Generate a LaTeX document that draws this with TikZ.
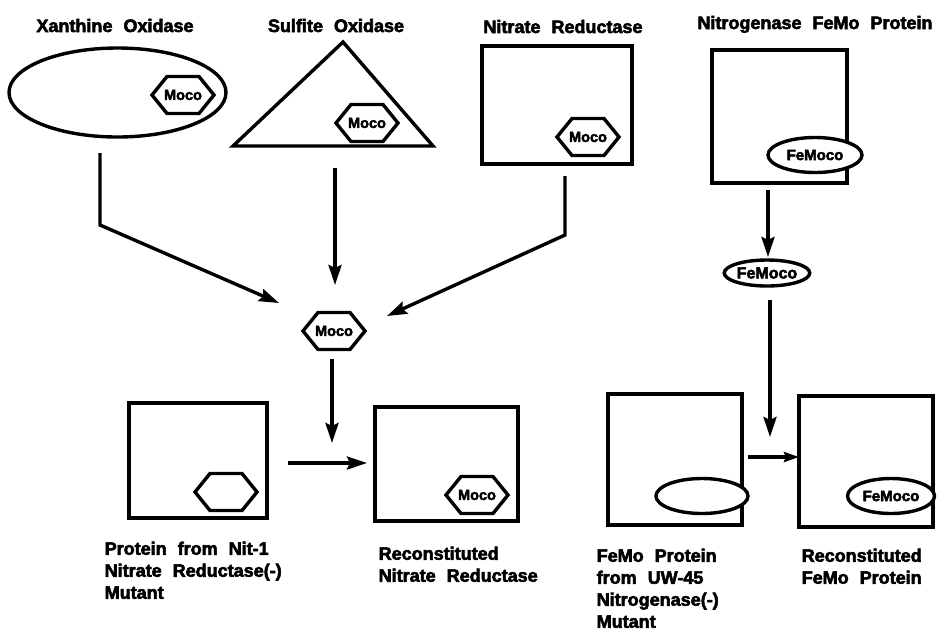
\documentclass[tikz,border=0pt]{standalone}
\usepackage{fontspec}
\setmainfont{Liberation Sans}[UprightFont={* Bold}, FakeBold=3, WordSpace=2.2]
\usetikzlibrary{arrows.meta,shapes.geometric,calc}
\newcommand\hexnode[3]{%
  \coordinate (#1) at (#2);
  \draw[fill=white, line join=miter] ($(#1)+(-31,0)$) -- ++(15,-18.5) -- ++(32,0) -- ++(15,18.5)
     -- ++(-15,18.5) -- ++(-32,0) -- cycle;
  \node[hextext] (#1-t) at (#1) {#3};}
\begin{document}
\begin{tikzpicture}[x=1pt,y=-1pt, line width=3.4pt,
  lab/.style={font=\fontsize{18}{22}\selectfont, inner sep=0pt, align=left, anchor=north west},
  ttl/.style={font=\fontsize{18}{22}\selectfont, inner sep=0pt, anchor=base},
  hextext/.style={inner sep=0pt, font=\fontsize{14.5}{15}\selectfont},
  ell/.style={draw, ellipse, inner sep=0pt, fill=white, font=\fontsize{15}{16}\selectfont},
  box/.style={draw, rectangle, inner sep=0pt},
  arr/.style={-{Stealth[length=20pt,width=13pt,inset=3pt]}, line join=miter},
  sarr/.style={-{Stealth[length=15pt,width=10pt,inset=2pt]}},
]
\useasboundingbox (0,0) rectangle (937,633);

% titles
\node[ttl] (t1) at (115,32) {Xanthine Oxidase};
\node[ttl] (t2) at (336,32) {Sulfite Oxidase};
\node[ttl] (t3) at (563,33) {Nitrate Reductase};
\node[ttl] (t4) at (815,29) {Nitrogenase FeMo Protein};

% xanthine oxidase
\node[draw, ellipse, inner sep=0pt, minimum width=217pt, minimum height=89pt] (xo) at (117.5,92.5) {};
\hexnode{xomoco}{183,95}{Moco}

% sulfite oxidase
\coordinate (soA) at (343,42);
\coordinate (soB) at (433,146);
\coordinate (soC) at (233,146);
\draw[line join=miter] (soA) -- (soB) -- (soC) -- cycle;
\hexnode{somoco}{367,123}{Moco}

% nitrate reductase
\node[box, minimum width=150pt, minimum height=118pt] (nr) at (557,105) {};
\hexnode{nrmoco}{588,137}{Moco}

% nitrogenase FeMo protein
\node[box, minimum width=135pt, minimum height=133pt] (femo) at (779.5,116.5) {};
\node[ell, minimum width=94pt, minimum height=35pt] (femocoA) at (815,155) {FeMoco};

% free Moco and FeMoco
\hexnode{moco}{334,331}{Moco}
\node[ell, minimum width=84pt, minimum height=26pt, font=\fontsize{16}{17}\selectfont] (femocoB) at (767,273) {FeMoco};

% bottom boxes
\node[box, minimum width=138pt, minimum height=115pt] (mut) at (198,460.5) {};
\hexnode{muthex}{226,492}{}
\node[box, minimum width=143pt, minimum height=114pt] (rec) at (446.5,464) {};
\hexnode{rechex}{477,495}{Moco}
\node[box, minimum width=134pt, minimum height=131pt] (fmut) at (675,459.5) {};
\node[ell, minimum width=92pt, minimum height=35pt] (fmutell) at (702,496) {};
\node[box, minimum width=134pt, minimum height=131pt] (frec) at (866,461.5) {};
\node[ell, minimum width=87pt, minimum height=35pt] (frecell) at (891,496) {FeMoco};

% arrow coordinates
\coordinate (a1s) at (100,153);
\coordinate (a1k) at (100,225);
\coordinate (a1e) at (279,303);
\coordinate (a2s) at (335,168);
\coordinate (a2e) at (335,285);
\coordinate (a3s) at (565,176);
\coordinate (a3k) at (565,235);
\coordinate (a3e) at (387,316);
\coordinate (a4s) at (332,359);
\coordinate (a4e) at (332,443);
\coordinate (a5s) at (288,463);
\coordinate (a5e) at (367,463);
\coordinate (a6s) at (768,190);
\coordinate (a6e) at (768,257);
\coordinate (a7s) at (770,300);
\coordinate (a7e) at (770,437);
\coordinate (a8s) at (748,457);
\coordinate (a8e) at (799,457);

\draw[arr] (a1s) -- (a1k) -- (a1e);
\draw[arr] (a2s) -- (a2e);
\draw[arr] (a3s) -- (a3k) -- (a3e);
\draw[arr] (a4s) -- (a4e);
\draw[arr] (a5s) -- (a5e);
\draw[arr] (a6s) -- (a6e);
\draw[arr] (a7s) -- (a7e);
\draw[sarr] (a8s) -- (a8e);

% labels
\node[lab] (l1) at (103,540) {Protein  from  Nit-1\\Nitrate  Reductase(-)\\Mutant};
\node[lab] (l2) at (377,545) {Reconstituted\\Nitrate  Reductase};
\node[lab] (l3) at (595,547) {FeMo  Protein\\from  UW-45\\Nitrogenase(-)\\Mutant};
\node[lab] (l4) at (800,547) {Reconstituted\\FeMo  Protein};
\end{tikzpicture}
\end{document}
